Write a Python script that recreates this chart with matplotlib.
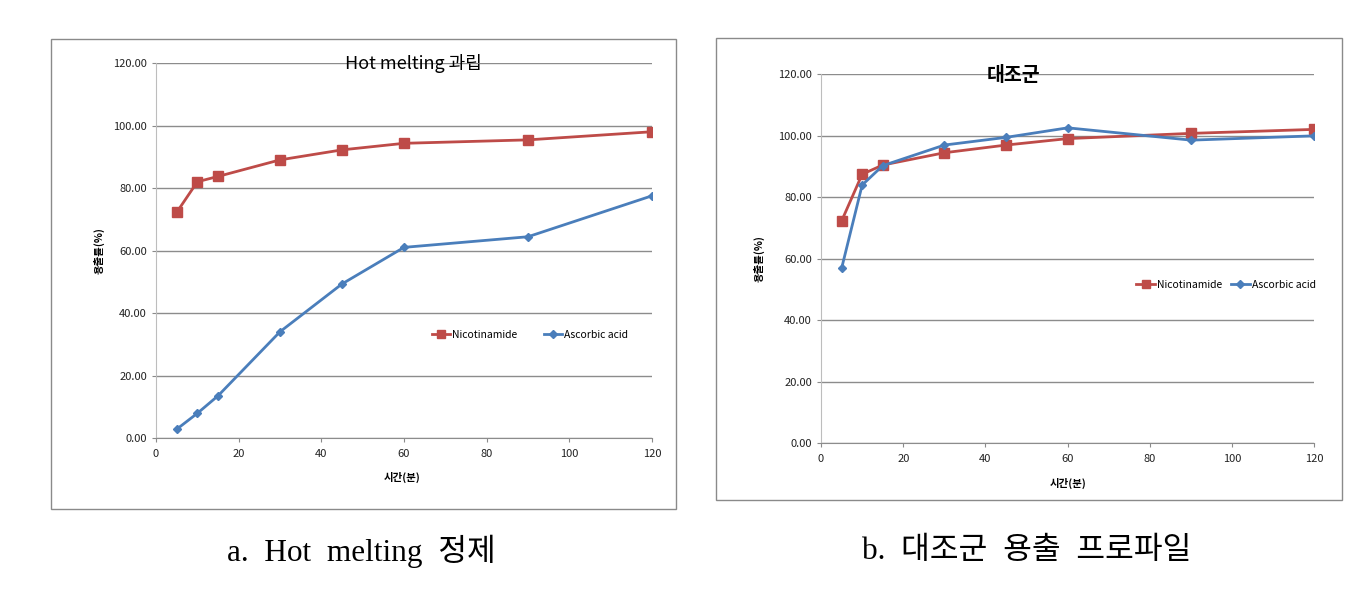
import matplotlib.pyplot as plt
from matplotlib.patches import Rectangle

# -----------------------------
# Data
# -----------------------------
time_min = [5, 10, 15, 30, 45, 60, 90, 120]

hm_nicotinamide = [72.3, 82.1, 83.8, 89.1, 92.3, 94.4, 95.5, 98.1]
hm_ascorbic = [2.9, 8.0, 13.6, 34.1, 49.4, 61.1, 64.5, 77.6]

ctrl_nicotinamide = [72.3, 87.5, 90.5, 94.5, 97.0, 99.1, 100.8, 102.1]
ctrl_ascorbic = [56.9, 84.0, 90.3, 97.0, 99.5, 102.6, 98.6, 100.0]

series_names = ["Nicotinamide", "Ascorbic acid"]
panel_titles = ["Hot melting 과립", "대조군"]
captions = ["a.  Hot  melting  정제", "b.  대조군  용출  프로파일"]
x_ticks = [0, 20, 40, 60, 80, 100, 120]
y_ticks = [0, 20, 40, 60, 80, 100, 120]

RED = "#BE4B48"
BLUE = "#4A7EBB"
NARROW = ["Liberation Sans Narrow", "Noto Sans CJK KR", "DejaVu Sans"]
KR = ["Noto Sans CJK KR", "DejaVu Sans"]
SERIF = ["Liberation Serif", "Noto Sans CJK KR"]

plt.rcParams["font.family"] = NARROW

fig = plt.figure(figsize=(13.70, 5.99), dpi=100)

# chart-area frames (Excel style)
fig.add_artist(Rectangle((0.0372, 0.1503), 0.4562, 0.7846, transform=fig.transFigure,
                         fill=False, edgecolor="#8a8a8a", linewidth=1.0))
fig.add_artist(Rectangle((0.5226, 0.1653), 0.4569, 0.7713, transform=fig.transFigure,
                         fill=False, edgecolor="#8a8a8a", linewidth=1.0))

ax1 = fig.add_axes([0.1139, 0.2683, 0.3620, 0.6260])
ax2 = fig.add_axes([0.5993, 0.2599, 0.3601, 0.6160])

panels = [
    (ax1, hm_nicotinamide, hm_ascorbic, (0.754, 0.2755), (-0.104, 0.5), (0.496, -0.09),
     (0.52, 1.0), 13),
    (ax2, ctrl_nicotinamide, ctrl_ascorbic, (0.821, 0.429), (-0.115, 0.5), (0.50, -0.094),
     (0.39, 0.997), 14),
]

for i, (ax, nic, asc, leg_xy, ylab_xy, xlab_xy, title_xy, title_fs) in enumerate(panels):
    ax.plot(time_min, nic, color=RED, linewidth=2.0, marker="s", markersize=6.5,
            label=series_names[0], zorder=3)
    ax.plot(time_min, asc, color=BLUE, linewidth=2.0, marker="D", markersize=4.5,
            label=series_names[1], zorder=3)

    ax.set_xlim(0, 120)
    ax.set_ylim(0, 120)
    ax.set_xticks(x_ticks)
    ax.set_yticks(y_ticks)
    ax.set_yticklabels([f"{v:.2f}" for v in y_ticks])
    ax.tick_params(axis="both", labelsize=8, direction="out", length=3,
                   color="#8a8a8a", width=0.8, labelcolor="#222222")
    ax.tick_params(axis="x", pad=5)

    ax.grid(axis="y", color="#8c8c8c", linewidth=1.0)
    ax.set_axisbelow(True)
    for side in ["top", "right"]:
        ax.spines[side].set_visible(False)
    ax.spines["left"].set_color("#bdbdbd")
    ax.spines["bottom"].set_color("#8c8c8c")

    ax.set_ylabel("용출률(%)", family=KR, fontsize=7.5, fontweight="bold")
    ax.yaxis.set_label_coords(*ylab_xy)
    ax.set_xlabel("시간(분)", family=KR, fontsize=7.5, fontweight="bold")
    ax.xaxis.set_label_coords(*xlab_xy)

    ax.text(title_xy[0], title_xy[1], panel_titles[i], transform=ax.transAxes,
            ha="center", va="center", fontsize=title_fs, family=NARROW,
            fontweight="bold" if i == 1 else "normal")

    ax.legend(loc="center", bbox_to_anchor=leg_xy, ncol=2, frameon=False,
              fontsize=7.5, handlelength=1.8, handletextpad=0.2,
              columnspacing=2.5 if i == 0 else 0.8, markerscale=0.8)

fig.text(0.2635, 0.080, captions[0], ha="center", va="center", fontsize=22.5,
         family=SERIF)
fig.text(0.7496, 0.080, captions[1], ha="center", va="center", fontsize=22.5,
         family=SERIF)

fig.savefig("out.png", dpi=100)
